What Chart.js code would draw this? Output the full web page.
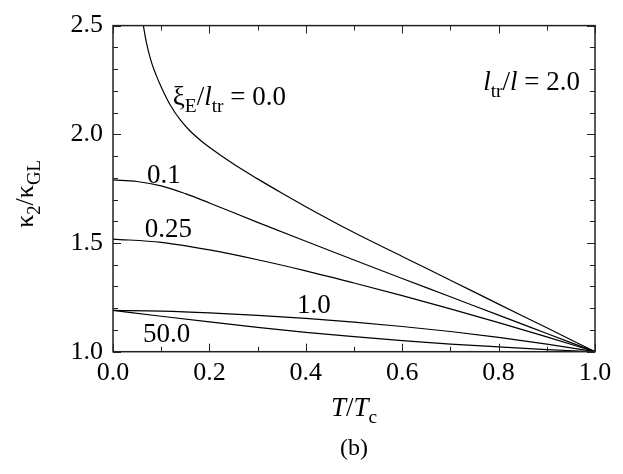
<!DOCTYPE html>
<html>
<head>
<meta charset="utf-8">
<script src="https://cdn.jsdelivr.net/npm/chart.js@4.4.0/dist/chart.umd.min.js"></script>
<style>
  html, body { margin: 0; padding: 0; background: #fff; }
  #wrap { width: 623px; height: 474px; }
</style>
</head>
<body>
<div id="wrap"><canvas id="myChart"></canvas></div>
<script>
const FONT = '"Liberation Serif", "DejaVu Serif", serif';

// T/Tc values
const tGrid = [0.0, 0.1, 0.2, 0.3, 0.4, 0.5, 0.6, 0.7, 0.8, 0.9, 1.0];
const t01   = [0.0, 0.05, 0.1, 0.15, 0.2, 0.3, 0.4, 0.5, 0.6, 0.7, 0.8, 0.9, 1.0];
const tZero = [0.058, 0.063, 0.07, 0.08, 0.09, 0.1, 0.12, 0.14, 0.16, 0.18, 0.2, 0.25, 0.3, 0.35, 0.4, 0.5, 0.6, 0.7, 0.8, 0.9, 1.0];

// kappa_2 / kappa_GL for each xi_E / l_tr
const kZero = [2.58, 2.5, 2.415, 2.33, 2.27, 2.218, 2.13, 2.065, 2.015, 1.975, 1.94, 1.863, 1.795, 1.73, 1.667, 1.548, 1.438, 1.329, 1.219, 1.11, 1.0];
const k01   = [1.79, 1.783, 1.763, 1.727, 1.684, 1.595, 1.508, 1.422, 1.337, 1.253, 1.168, 1.084, 1.0];
const k025  = [1.518, 1.503, 1.468, 1.423, 1.372, 1.316, 1.258, 1.197, 1.134, 1.068, 1.0];
const k10   = [1.19, 1.187, 1.179, 1.167, 1.153, 1.136, 1.116, 1.093, 1.066, 1.035, 1.0];
const k50   = [1.19, 1.163, 1.137, 1.112, 1.089, 1.069, 1.051, 1.035, 1.022, 1.01, 1.0];

const xTickLabels = [0.0, 0.2, 0.4, 0.6, 0.8, 1.0];
const yTickLabels = [1.0, 1.5, 2.0, 2.5];

function pts(xs, ys) {
  return xs.map((x, i) => ({ x: x, y: ys[i] }));
}

function curve(data) {
  return {
    data: data,
    borderColor: '#000',
    borderWidth: 1.2,
    pointRadius: 0,
    fill: false,
    cubicInterpolationMode: 'monotone'
  };
}

function hasLabel(list, v) {
  return list.some(t => Math.abs(t - v) < 1e-6);
}

// draw text made of pieces: {t, it (italic), sub (subscript)}
function drawRich(ctx, parts, x, y, align, size) {
  const fontOf = p => (p.it ? 'italic ' : '') + (p.sub ? size * 0.72 : size) + 'px ' + FONT;
  const widths = parts.map(p => { ctx.font = fontOf(p); return ctx.measureText(p.t).width; });
  const total = widths.reduce((a, b) => a + b, 0);
  let cx = align === 'center' ? x - total / 2 : (align === 'right' ? x - total : x);
  ctx.textAlign = 'left';
  ctx.textBaseline = 'alphabetic';
  parts.forEach((p, i) => {
    ctx.font = fontOf(p);
    ctx.fillText(p.t, cx, y + (p.sub ? size * 0.27 : 0));
    cx += widths[i];
  });
}

// labels placed at data coordinates (baseline)
const notes = [
  { parts: [{ t: '0.1' }], x: 0.0705, y: 1.776, align: 'left' },
  { parts: [{ t: '0.25' }], x: 0.066, y: 1.5255, align: 'left' },
  { parts: [{ t: '1.0' }], x: 0.382, y: 1.179, align: 'left' },
  { parts: [{ t: '50.0' }], x: 0.062, y: 1.0435, align: 'left' },
  { parts: [{ t: 'ξ' }, { t: 'E', sub: true }, { t: '/' }, { t: 'l', it: true }, { t: 'tr', sub: true }, { t: ' = 0.0' }],
    x: 0.124, y: 2.137, align: 'left' },
  { parts: [{ t: 'l', it: true }, { t: 'tr', sub: true }, { t: '/' }, { t: 'l', it: true }, { t: ' = 2.0' }],
    x: 0.969, y: 2.204, align: 'right' }
];

const framePlugin = {
  id: 'frame',
  afterDraw(chart) {
    const ctx = chart.ctx;
    const a = chart.chartArea;
    const xs = chart.scales.x, ys = chart.scales.y;
    ctx.save();
    ctx.strokeStyle = '#222';
    ctx.lineWidth = 1.5;
    ctx.strokeRect(a.left, a.top, a.right - a.left, a.bottom - a.top);

    // inward ticks on all four sides
    ctx.lineWidth = 1;
    ctx.beginPath();
    xs.ticks.forEach(t => {
      const px = Math.round(xs.getPixelForValue(t.value)) + 0.5;
      const len = hasLabel(xTickLabels, t.value) ? 8 : 5;
      ctx.moveTo(px, a.bottom); ctx.lineTo(px, a.bottom - len);
      ctx.moveTo(px, a.top); ctx.lineTo(px, a.top + len);
    });
    ys.ticks.forEach(t => {
      const py = Math.round(ys.getPixelForValue(t.value)) + 0.5;
      const len = hasLabel(yTickLabels, t.value) ? 8 : 5;
      ctx.moveTo(a.left, py); ctx.lineTo(a.left + len, py);
      ctx.moveTo(a.right, py); ctx.lineTo(a.right - len, py);
    });
    ctx.stroke();

    ctx.fillStyle = '#000';
    notes.forEach(n => {
      drawRich(ctx, n.parts, xs.getPixelForValue(n.x), ys.getPixelForValue(n.y), n.align, 27);
    });

    // axis titles
    const midX = (a.left + a.right) / 2;
    drawRich(ctx, [{ t: 'T', it: true }, { t: '/' }, { t: 'T', it: true }, { t: 'c', sub: true }], midX, 416, 'center', 27);
    drawRich(ctx, [{ t: '(b)' }], midX, 455, 'center', 24);

    ctx.translate(33, 194);
    ctx.rotate(-Math.PI / 2);
    drawRich(ctx, [{ t: 'κ' }, { t: '2', sub: true }, { t: '/' }, { t: 'κ' }, { t: 'GL', sub: true }], 0, 0, 'center', 26);
    ctx.restore();
  }
};

new Chart('myChart', {
  type: 'line',
  data: {
    datasets: [
      curve(pts(tZero, kZero)),
      curve(pts(t01, k01)),
      curve(pts(tGrid, k025)),
      curve(pts(tGrid, k10)),
      curve(pts(tGrid, k50))
    ]
  },
  options: {
    responsive: true,
    maintainAspectRatio: false,
    animation: false,
    layout: { padding: { top: 17, right: 28, bottom: 0, left: 0 } },
    plugins: { legend: { display: false }, tooltip: { enabled: false } },
    scales: {
      x: {
        type: 'linear',
        min: 0, max: 1,
        grid: { display: false, tickLength: 0 },
        border: { display: false },
        ticks: {
          stepSize: 0.1,
          autoSkip: false,
          maxRotation: 0,
          padding: 6,
          color: '#000',
          font: { family: FONT, size: 26 },
          callback: v => hasLabel(xTickLabels, v) ? v.toFixed(1) : ''
        },
        afterFit(scale) { scale.height = 122.3; }
      },
      y: {
        type: 'linear',
        min: 1, max: 2.5,
        grid: { display: false, tickLength: 0 },
        border: { display: false },
        ticks: {
          stepSize: 0.1,
          autoSkip: false,
          padding: 10,
          color: '#000',
          font: { family: FONT, size: 26 },
          callback: v => hasLabel(yTickLabels, v) ? v.toFixed(1) : ''
        },
        afterFit(scale) { scale.width = 113; }
      }
    }
  },
  plugins: [framePlugin]
});
</script>
</body>
</html>
